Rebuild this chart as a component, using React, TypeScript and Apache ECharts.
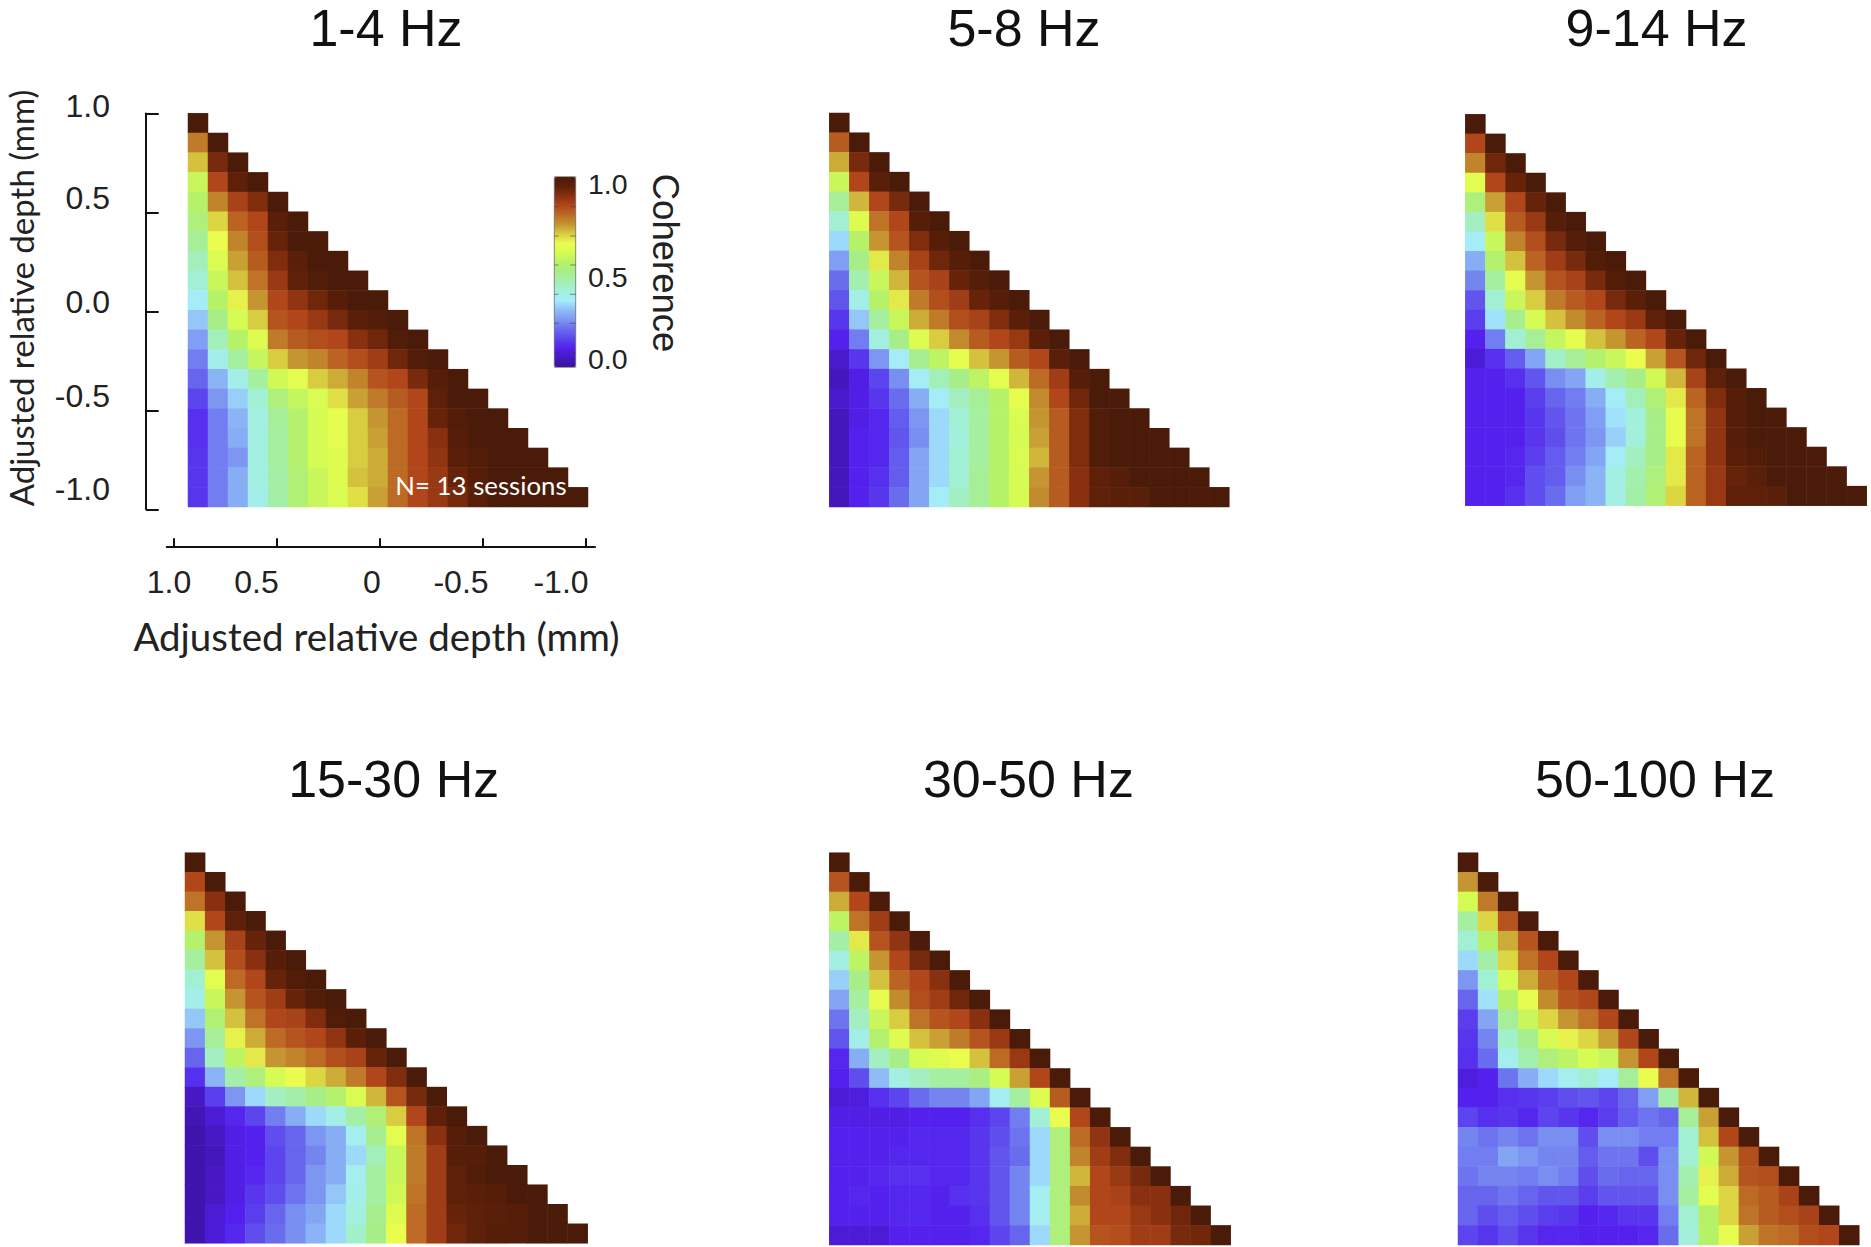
import { useEffect, useRef } from 'react';
import * as echarts from 'echarts';

// depth categories of the 20 recording sites, shallow to deep
const depths = ['1.0', '0.9', '0.8', '0.7', '0.6', '0.5', '0.4', '0.3', '0.2', '0.1', '0.0', '-0.1', '-0.2', '-0.3', '-0.4', '-0.5', '-0.6', '-0.7', '-0.8', '-0.9'];

const band1to4 = [
  [1],
  [.78, 1],
  [.71, .92, 1],
  [.58, .85, .95, 1],
  [.55, .77, .86, .91, 1],
  [.52, .69, .81, .85, .96, 1],
  [.48, .65, .77, .84, .94, 1, 1],
  [.44, .61, .74, .82, .91, .96, 1, 1],
  [.41, .58, .71, .79, .88, .95, .98, 1, 1],
  [.36, .55, .66, .75, .85, .89, .93, .97, 1, 1],
  [.31, .5, .6, .7, .83, .85, .88, .92, .96, .98, 1],
  [.26, .44, .55, .62, .78, .82, .84, .85, .9, .93, .98, 1],
  [.22, .38, .47, .57, .7, .75, .77, .81, .84, .87, .93, .98, 1],
  [.19, .29, .38, .47, .59, .63, .7, .73, .77, .83, .85, .92, .97, 1],
  [.15, .25, .32, .41, .52, .57, .61, .68, .74, .78, .82, .85, .95, 1, 1],
  [.12, .22, .29, .39, .48, .54, .6, .64, .7, .75, .8, .85, .94, .98, 1, 1],
  [.12, .22, .28, .39, .47, .54, .6, .63, .7, .74, .8, .85, .9, .97, 1, 1, 1],
  [.13, .22, .25, .39, .47, .54, .6, .62, .7, .73, .8, .85, .89, .96, .98, 1, 1, 1],
  [.13, .22, .28, .39, .46, .53, .58, .62, .71, .73, .8, .85, .88, .94, .97, 1, 1, 1, 1],
  [.13, .22, .28, .38, .46, .53, .58, .61, .68, .74, .8, .85, .88, .92, .96, 1, 1, 1, 1, 1],
];

const band5to8 = [
  [1],
  [.82, 1],
  [.73, .92, 1],
  [.58, .85, .96, 1],
  [.48, .72, .85, .92, 1],
  [.41, .62, .79, .85, .97, 1],
  [.33, .55, .75, .83, .91, .97, 1],
  [.26, .5, .67, .77, .86, .93, .97, 1],
  [.2, .45, .58, .72, .83, .86, .94, .97, 1],
  [.17, .38, .55, .67, .78, .84, .87, .94, .97, 1],
  [.13, .31, .47, .58, .73, .78, .84, .86, .91, .96, 1],
  [.1, .22, .39, .5, .62, .7, .76, .82, .85, .88, .96, 1],
  [.06, .13, .25, .36, .49, .56, .64, .71, .75, .82, .85, .96, 1],
  [.04, .09, .15, .24, .36, .44, .5, .56, .63, .72, .8, .87, .97, 1],
  [.06, .09, .13, .2, .28, .36, .43, .48, .55, .64, .76, .85, .93, 1, 1],
  [.04, .09, .11, .18, .25, .33, .41, .47, .55, .61, .75, .82, .91, .98, 1, 1],
  [.04, .1, .11, .17, .24, .33, .4, .47, .55, .6, .74, .82, .91, .98, 1, 1, 1],
  [.04, .1, .11, .18, .27, .33, .41, .47, .55, .61, .72, .82, .91, .98, 1, 1, 1, 1],
  [.04, .1, .12, .18, .27, .33, .41, .48, .55, .6, .75, .82, .9, .95, .97, 1, 1, 1, 1],
  [.04, .1, .13, .2, .27, .36, .43, .48, .55, .6, .76, .82, .9, .95, .96, .96, 1, 1, 1, 1],
];

const band9to14 = [
  [1],
  [.85, 1],
  [.77, .93, 1],
  [.63, .85, .94, 1],
  [.52, .74, .85, .94, 1],
  [.43, .68, .82, .88, .97, 1],
  [.36, .58, .77, .84, .92, .97, 1],
  [.28, .54, .71, .81, .87, .92, .98, 1],
  [.23, .47, .64, .75, .83, .86, .92, .98, 1],
  [.17, .41, .58, .7, .78, .82, .85, .92, .96, 1],
  [.14, .34, .49, .6, .71, .76, .81, .85, .88, .95, 1],
  [.1, .22, .41, .48, .57, .64, .71, .75, .81, .85, .94, 1],
  [.07, .12, .18, .27, .42, .48, .54, .58, .65, .74, .83, .93, 1],
  [.1, .1, .12, .17, .24, .27, .38, .45, .5, .59, .72, .86, .95, 1],
  [.1, .1, .1, .14, .19, .22, .28, .36, .44, .53, .67, .81, .91, .97, 1],
  [.1, .1, .1, .13, .17, .21, .26, .34, .4, .5, .64, .79, .89, .97, 1, 1],
  [.1, .1, .1, .13, .16, .21, .25, .32, .4, .5, .64, .79, .89, .97, 1, 1, 1],
  [.1, .1, .11, .14, .18, .22, .27, .36, .43, .5, .67, .81, .89, .96, .98, 1, 1, 1],
  [.1, .1, .11, .16, .18, .24, .29, .39, .45, .52, .67, .81, .88, .94, .96, 1, 1, 1, 1],
  [.1, .1, .12, .16, .2, .26, .29, .39, .46, .53, .69, .81, .88, .95, .95, .96, 1, 1, 1, 1],
];

const band15to30 = [
  [1],
  [.85, 1],
  [.79, .9, 1],
  [.68, .85, .95, 1],
  [.54, .75, .86, .94, 1],
  [.47, .71, .84, .9, .97, 1],
  [.41, .63, .8, .85, .94, .98, 1],
  [.38, .58, .75, .83, .87, .94, .98, 1],
  [.31, .53, .71, .79, .85, .86, .91, .98, 1],
  [.25, .48, .66, .73, .8, .83, .85, .89, .96, 1],
  [.19, .43, .56, .67, .75, .77, .8, .84, .86, .94, 1],
  [.12, .29, .46, .52, .6, .65, .69, .73, .78, .85, .91, 1],
  [.05, .14, .25, .33, .43, .46, .5, .54, .61, .72, .83, .92, 1],
  [.03, .07, .11, .15, .22, .28, .33, .38, .46, .53, .7, .85, .95, 1],
  [.02, .05, .09, .1, .16, .19, .25, .28, .37, .49, .63, .79, .9, .97, 1],
  [.02, .04, .09, .1, .15, .19, .23, .28, .33, .44, .58, .78, .87, .97, .97, 1],
  [.02, .05, .09, .11, .15, .19, .25, .28, .37, .47, .58, .78, .87, .95, .98, 1, 1],
  [.02, .05, .09, .13, .16, .21, .25, .31, .38, .47, .59, .79, .87, .95, .96, .97, 1, 1],
  [.02, .07, .1, .14, .19, .24, .27, .33, .39, .49, .62, .8, .87, .94, .95, .96, .97, 1, 1],
  [.02, .07, .11, .16, .2, .24, .29, .33, .42, .5, .65, .8, .87, .93, .95, .97, .97, 1, 1, 1],
];

const band30to50 = [
  [1],
  [.83, 1],
  [.73, .85, 1],
  [.56, .79, .87, 1],
  [.46, .67, .83, .89, 1],
  [.39, .56, .75, .85, .92, 1],
  [.32, .5, .71, .81, .85, .9, 1],
  [.27, .47, .64, .76, .84, .87, .93, 1],
  [.21, .43, .58, .7, .79, .83, .85, .9, 1],
  [.17, .38, .54, .62, .71, .74, .78, .83, .88, 1],
  [.11, .28, .43, .5, .6, .62, .65, .71, .8, .88, 1],
  [.1, .16, .3, .39, .43, .47, .47, .51, .6, .74, .85, 1],
  [.07, .08, .12, .15, .2, .23, .23, .27, .37, .47, .62, .82, 1],
  [.09, .09, .09, .09, .1, .1, .1, .12, .15, .22, .41, .65, .85, 1],
  [.1, .1, .1, .1, .11, .11, .11, .13, .16, .21, .33, .52, .8, .89, 1],
  [.1, .1, .1, .11, .11, .11, .11, .13, .17, .2, .33, .52, .77, .87, .91, 1],
  [.1, .1, .11, .12, .12, .11, .11, .13, .17, .23, .33, .52, .72, .85, .88, .92, 1],
  [.1, .11, .1, .11, .11, .1, .12, .13, .17, .23, .37, .52, .76, .85, .86, .9, .9, 1],
  [.1, .1, .1, .11, .11, .1, .1, .12, .17, .23, .37, .52, .73, .85, .85, .88, .9, .93, 1],
  [.07, .07, .07, .1, .1, .1, .1, .11, .15, .19, .33, .52, .75, .83, .84, .87, .87, .92, .93, 1],
];

const band50to100 = [
  [1],
  [.75, 1],
  [.6, .78, 1],
  [.47, .69, .83, 1],
  [.41, .55, .73, .83, 1],
  [.33, .46, .69, .79, .85, 1],
  [.25, .41, .6, .73, .81, .85, 1],
  [.19, .34, .55, .64, .76, .83, .85, 1],
  [.14, .27, .48, .58, .69, .75, .79, .85, 1],
  [.13, .23, .42, .49, .6, .66, .69, .74, .85, 1],
  [.12, .2, .37, .45, .52, .56, .6, .58, .75, .85, 1],
  [.08, .1, .21, .28, .33, .37, .41, .36, .48, .65, .79, 1],
  [.1, .1, .12, .13, .14, .16, .17, .15, .19, .26, .46, .72, 1],
  [.15, .12, .13, .11, .15, .13, .11, .14, .18, .21, .19, .48, .74, 1],
  [.23, .21, .23, .21, .24, .24, .16, .24, .24, .22, .22, .41, .71, .85, 1],
  [.22, .22, .27, .25, .23, .23, .18, .21, .21, .16, .24, .41, .59, .75, .84, 1],
  [.21, .23, .23, .22, .24, .22, .16, .2, .19, .19, .24, .45, .66, .73, .83, .84, 1],
  [.19, .19, .21, .19, .17, .17, .14, .17, .17, .17, .24, .47, .63, .69, .8, .82, .86, 1],
  [.19, .16, .18, .16, .14, .13, .1, .11, .13, .13, .22, .41, .55, .69, .79, .82, .84, .86, 1],
  [.15, .13, .16, .13, .11, .11, .1, .1, .1, .11, .2, .4, .55, .64, .74, .79, .8, .84, .85, 1],
];

const bandNames = ['1-4 Hz', '5-8 Hz', '9-14 Hz', '15-30 Hz', '30-50 Hz', '50-100 Hz'];
const bandValues = [band1to4, band5to8, band9to14, band15to30, band30to50, band50to100];
const depthTicks = [1, 0.5, 0, -0.5, -1];
const yTickLabels = ['1.0', '0.5', '0.0', '-0.5', '-1.0'];
const xTickLabels = ['1.0', '0.5', '0', '-0.5', '-1.0'];
const scaleLabels = ['1.0', '0.5', '0.0'];

// colour ramp, evenly spaced from 0 to 1 in steps of 0.05
const ramp = [
  '#3a129c', '#4718c4', '#5320ee', '#5c45ee', '#6a6cee', '#7c96f2', '#8fbcf7',
  '#a6ecfc', '#a2f0dc', '#a3efb0', '#a8ee88', '#b6f268', '#d6fb52', '#eafc4e',
  '#d8cc40', '#c49530', '#bc6a24', '#b0461a', '#88300f', '#5e2009', '#4a1b08',
];

// pixel boxes of the six triangles
const boxes = [
  { left: 188, top: 113.3, width: 400, height: 393.7 },
  { left: 829.3, top: 113, width: 400, height: 394 },
  { left: 1465.3, top: 114.3, width: 401.4, height: 391.4 },
  { left: 185, top: 852.7, width: 402.7, height: 390.6 },
  { left: 829.3, top: 852.7, width: 401.4, height: 392.3 },
  { left: 1458, top: 852.7, width: 401.3, height: 392.3 },
];
const titleSpots = [[386, 2], [1024, 2], [1656.5, 2], [393.7, 753], [1028.4, 753], [1655, 753]];

const yLabelSpots = [106, 198, 302, 396, 489];
const xLabelSpots = [169, 256.5, 372, 461, 561];
const scaleLabelSpots = [184, 277, 359];
const scaleTickSpots = [206.7, 236, 265, 294.3, 323.3, 352.7];

const tickFont = '32px "Liberation Sans"';
const axisLine = { lineStyle: { color: '#111', width: 2 } };

const App = () => {
  const chartRef = useRef<HTMLDivElement>(null);

  useEffect(() => {
    if (!chartRef.current) return;
    const myChart = echarts.init(chartRef.current, undefined, { renderer: 'svg' });

    const hiddenCategory = { type: 'category', data: depths, show: false };
    const hiddenValue = { type: 'value', show: false, min: 0, max: 1 };

    const texts: any[] = [];
    yTickLabels.forEach((text, i) => {
      texts.push({
        type: 'text', x: 110, y: yLabelSpots[i],
        style: { text, font: tickFont, fill: '#222', align: 'right', verticalAlign: 'middle' },
      });
    });
    xTickLabels.forEach((text, i) => {
      texts.push({
        type: 'text', x: xLabelSpots[i], y: 582,
        style: { text, font: tickFont, fill: '#222', align: 'center', verticalAlign: 'middle' },
      });
    });
    scaleLabels.forEach((text, i) => {
      texts.push({
        type: 'text', x: 588, y: scaleLabelSpots[i],
        style: { text, font: '28.5px "Liberation Sans"', fill: '#222', align: 'left', verticalAlign: 'middle' },
      });
    });
    texts.push(
      {
        type: 'text', x: 376.4, y: 636,
        style: { text: 'Adjusted relative depth (mm)', font: '38.5px Lato', fill: '#222', align: 'center', verticalAlign: 'middle' },
      },
      {
        type: 'text', x: 20.5, y: 298, rotation: Math.PI / 2,
        style: { text: 'Adjusted relative depth (mm)', font: '33px Lato', fill: '#222', align: 'center', verticalAlign: 'middle' },
      },
      {
        type: 'text', x: 665.5, y: 263, rotation: -Math.PI / 2,
        style: { text: 'Coherence', font: '36.5px "Liberation Sans"', fill: '#222', align: 'center', verticalAlign: 'middle' },
      },
      {
        type: 'text', x: 481, y: 485, z: 20,
        style: { text: 'N= 13 sessions', font: '25.8px Lato', fill: '#fff', align: 'center', verticalAlign: 'middle' },
      },
      {
        type: 'rect', z: 20, shape: { x: 554.3, y: 176.7, width: 21.4, height: 190.6 },
        style: { fill: 'none', stroke: 'rgba(70,70,70,0.6)', lineWidth: 1 },
      },
    );
    scaleTickSpots.forEach((y) => {
      texts.push(
        { type: 'line', z: 20, shape: { x1: 554.3, y1: y, x2: 558.5, y2: y }, style: { stroke: 'rgba(60,60,60,0.55)', lineWidth: 1 } },
        { type: 'line', z: 20, shape: { x1: 570, y1: y, x2: 575.7, y2: y }, style: { stroke: 'rgba(60,60,60,0.55)', lineWidth: 1 } },
      );
    });

    const option = {
      animation: false,
      backgroundColor: '#fff',
      title: bandNames.map((name, i) => ({
        text: name,
        left: titleSpots[i][0],
        top: titleSpots[i][1],
        textAlign: 'center',
        padding: 0,
        textStyle: { fontFamily: 'Liberation Sans', fontSize: 52, fontWeight: 'normal', color: '#111' },
      })),
      grid: [
        ...boxes,
        { left: 146, top: 113.5, width: 30, height: 395.8 },
        { left: 166.7, top: 500, width: 428.3, height: 46.7 },
      ],
      xAxis: [
        ...boxes.map((_, i) => ({ ...hiddenCategory, gridIndex: i })),
        { ...hiddenValue, gridIndex: 6 },
        {
          type: 'value',
          gridIndex: 7,
          inverse: true,
          min: -1.045,
          max: 1.034,
          axisLine: { show: true, ...axisLine },
          axisTick: { show: true, inside: true, length: 8.4, customValues: depthTicks, ...axisLine },
          axisLabel: { show: false },
          splitLine: { show: false },
        },
      ],
      yAxis: [
        ...boxes.map((_, i) => ({ ...hiddenCategory, gridIndex: i, inverse: true })),
        {
          type: 'value',
          gridIndex: 6,
          min: -1,
          max: 1,
          axisLine: { show: true, ...axisLine },
          axisTick: { show: true, inside: true, length: 12.7, customValues: depthTicks, ...axisLine },
          axisLabel: { show: false },
          splitLine: { show: false },
        },
        { ...hiddenValue, gridIndex: 7 },
      ],
      visualMap: {
        type: 'continuous',
        min: 0,
        max: 1,
        seriesIndex: [0, 1, 2, 3, 4, 5],
        dimension: 2,
        left: 554.3,
        top: 176.7,
        padding: 0,
        itemWidth: 21.4,
        itemHeight: 190.6,
        calculable: false,
        hoverLink: false,
        text: ['', ''],
        inRange: { color: ramp },
      },
      series: bandValues.map((rows, i) => ({
        type: 'heatmap',
        name: bandNames[i],
        xAxisIndex: i,
        yAxisIndex: i,
        silent: true,
        data: rows.flatMap((row, r) => row.map((value, c) => [c, r, value])),
      })),
      graphic: { elements: texts },
    };

    myChart.setOption(option);

    return () => {
      myChart.dispose();
    };
  }, []);

  return <div ref={chartRef} style={{ position: 'fixed', left: 0, top: 0, width: 1871, height: 1247 }} />;
};

export default App;
